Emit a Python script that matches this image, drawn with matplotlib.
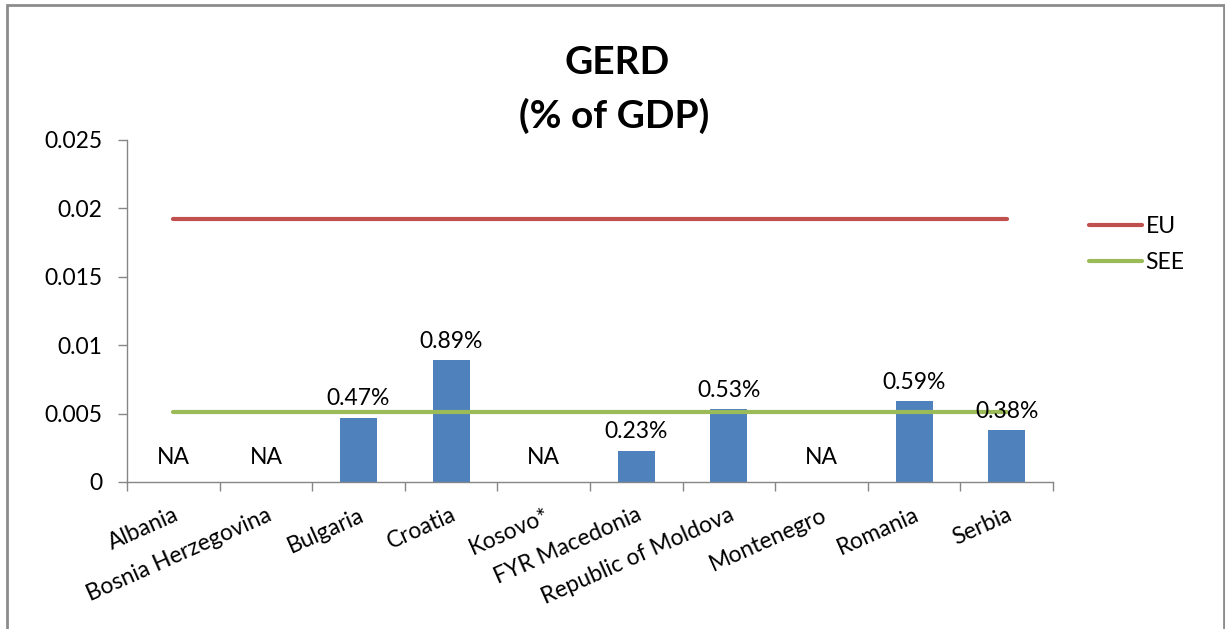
import matplotlib
matplotlib.use('Agg')
import matplotlib.pyplot as plt
import matplotlib.patches as patches
import numpy as np

countries = ['Albania', 'Bosnia Herzegovina', 'Bulgaria', 'Croatia', 'Kosovo*',
             'FYR Macedonia', 'Republic of Moldova', 'Montenegro', 'Romania', 'Serbia']
gerd = [np.nan, np.nan, 0.0047, 0.0089, np.nan, 0.0023, 0.0053, np.nan, 0.0059, 0.0038]
eu = [0.0192] * 10
see = [0.0051] * 10
yticks = [0, 0.005, 0.01, 0.015, 0.02, 0.025]
ytick_labels = ['0', '0.005', '0.01', '0.015', '0.02', '0.025']

plt.rcParams['font.family'] = ['Lato', 'DejaVu Sans']
fs = 16.5

fig = plt.figure(figsize=(12.25, 6.29), dpi=100)
ax = fig.add_axes([127/1225, 1 - 482/629, (1053 - 127)/1225, (482 - 140)/629])

x = np.arange(len(countries))
vals = np.nan_to_num(np.array(gerd))
ax.bar(x, vals, width=0.4, color='#4F81BD', zorder=2)
ax.plot(x, eu, color='#C0504D', lw=3, solid_capstyle='round', label='EU', zorder=3)
ax.plot(x, see, color='#9BBB59', lw=3, solid_capstyle='round', label='SEE', zorder=3)

# data labels, NA where no value
for xi, v in zip(x, gerd):
    if np.isnan(v):
        ax.text(xi, 0.0018, 'NA', ha='center', va='center', fontsize=fs)
    else:
        ax.annotate('%.2f%%' % (v * 100), (xi, v), xytext=(0, 6), textcoords='offset points',
                    ha='center', va='bottom', fontsize=fs, zorder=4)

ax.set_xlim(-0.5, 9.5)
ax.set_ylim(0, 0.025)
ax.set_yticks(yticks)
ax.set_yticklabels(ytick_labels, fontsize=fs)
ax.set_xticks(np.arange(-0.5, 10, 1))
ax.set_xticklabels([])
ax.set_xticks(x, minor=True)
ax.set_xticklabels(countries, minor=True, rotation=24, ha='right', va='top',
                   rotation_mode='anchor', fontsize=fs)
ax.tick_params(axis='x', which='minor', length=0, pad=16)
ax.tick_params(axis='x', which='major', length=6.5, color='#868686', width=1)
ax.tick_params(axis='y', length=6.5, color='#868686', width=1, pad=11)

for s in ['top', 'right']:
    ax.spines[s].set_visible(False)
for s in ['left', 'bottom']:
    ax.spines[s].set_color('#868686')
    ax.spines[s].set_linewidth(1)

fig.text(617/1225, 1 - 62/629, 'GERD', ha='center', va='center', fontsize=28, fontweight='bold')
fig.text(614/1225, 1 - 116/629, '(% of GDP)', ha='center', va='center', fontsize=28, fontweight='bold')

ax.legend(loc='upper left', bbox_to_anchor=(1089/1225, 1 - 216/629), bbox_transform=fig.transFigure,
          frameon=False, fontsize=fs, handlelength=2.3, handletextpad=0.17, labelspacing=0.65,
          borderpad=0, borderaxespad=0)

fig.patches.append(patches.Rectangle((7/1225, -0.05), (1224 - 7)/1225, 1.05 - 5/629,
                                     transform=fig.transFigure, fill=False,
                                     edgecolor='#8c8c8c', linewidth=2))

fig.savefig('out.png', dpi=100)
